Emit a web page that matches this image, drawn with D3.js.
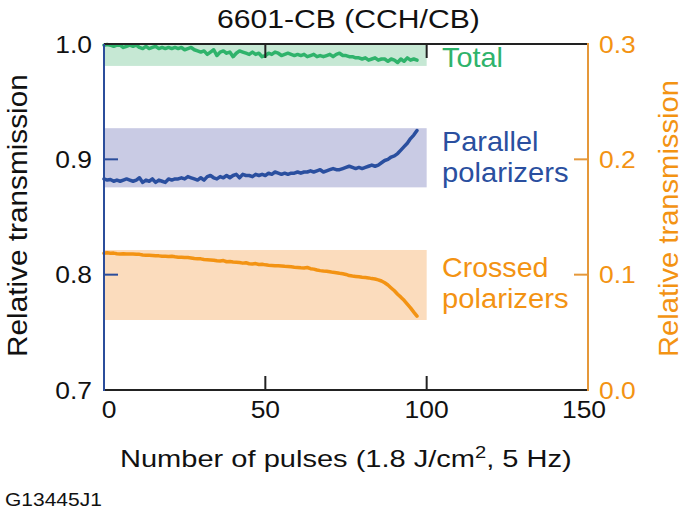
<!DOCTYPE html>
<html><head><meta charset="utf-8">
<script src="https://cdn.jsdelivr.net/npm/d3@7"></script>
<style>
html,body{margin:0;padding:0;background:#fff;}
svg{display:block;font-family:"Liberation Sans",Arial,Helvetica,sans-serif;}
</style></head>
<body>
<svg id="chart" width="685" height="513"></svg>
<script>
// ---------- data ----------
const title = "6601-CB (CCH/CB)";
const xTicks = [0, 50, 100, 150];
const leftTicks = [0.7, 0.8, 0.9, 1.0];
const leftTickLabels = ["0.7", "0.8", "0.9", "1.0"];
const rightTicks = [0.0, 0.1, 0.2, 0.3];
const rightTickLabels = ["0.0", "0.1", "0.2", "0.3"];
const footer = "G13445J1";

const totalValues = [0.999,0.9995,0.999,0.998,0.999,0.999,0.997,0.998,0.999,0.998,
0.999,0.997,0.996,0.998,0.996,0.997,0.998,0.996,0.997,0.996,
0.997,0.996,0.997,0.996,0.997,0.995,0.996,0.997,0.995,0.994,
0.993,0.994,0.991,0.993,0.995,0.990,0.993,0.994,0.992,0.993,
0.989,0.992,0.994,0.993,0.992,0.991,0.993,0.991,0.992,0.989,
0.990,0.992,0.991,0.993,0.992,0.990,0.991,0.992,0.991,0.990,
0.991,0.990,0.991,0.989,0.990,0.991,0.989,0.990,0.989,0.990,
0.991,0.989,0.991,0.992,0.990,0.990,0.989,0.989,0.988,0.988,
0.987,0.988,0.986,0.987,0.988,0.986,0.987,0.987,0.985,0.987,
0.986,0.984,0.987,0.985,0.988,0.986,0.987,0.986];

const parallelValues = [0.883,0.882,0.8825,0.881,0.882,0.881,0.882,0.883,0.882,0.881,
0.882,0.884,0.880,0.882,0.881,0.883,0.880,0.882,0.881,0.880,
0.883,0.882,0.883,0.883,0.884,0.883,0.885,0.884,0.883,0.882,
0.884,0.882,0.885,0.886,0.884,0.883,0.885,0.884,0.886,0.884,
0.886,0.887,0.884,0.887,0.886,0.886,0.885,0.887,0.886,0.887,
0.886,0.888,0.887,0.889,0.888,0.887,0.888,0.887,0.888,0.888,
0.889,0.888,0.889,0.889,0.890,0.889,0.890,0.891,0.889,0.890,
0.891,0.892,0.891,0.891,0.892,0.893,0.894,0.893,0.892,0.893,
0.892,0.893,0.894,0.895,0.894,0.895,0.897,0.899,0.900,0.902,
0.903,0.905,0.908,0.911,0.914,0.918,0.921,0.925];

const crossedValues = [0.8185,0.8190,0.8185,0.8187,0.8182,0.8180,0.8181,0.8180,0.8180,0.8179,
0.8178,0.8176,0.8170,0.8168,0.8168,0.8167,0.8165,0.8163,0.8160,0.8160,
0.8158,0.8160,0.8155,0.8152,0.8150,0.8148,0.8148,0.8145,0.8140,0.8138,
0.8137,0.8132,0.8130,0.8128,0.8125,0.8120,0.8118,0.8122,0.8112,0.8115,
0.8110,0.8108,0.8105,0.8100,0.8103,0.8095,0.8093,0.8096,0.8088,0.8090,
0.8085,0.8082,0.8080,0.8078,0.8077,0.8075,0.8072,0.8070,0.8068,0.8065,
0.8063,0.8060,0.8058,0.8062,0.8052,0.8048,0.8040,0.8035,0.8032,0.8030,
0.8025,0.8020,0.8017,0.8012,0.8008,0.8002,0.7992,0.7988,0.7985,0.7982,
0.7978,0.7975,0.7972,0.7966,0.7962,0.7955,0.7945,0.7930,0.7910,0.7885,
0.7860,0.7830,0.7805,0.7778,0.7745,0.7712,0.7675,0.7640];

const pulses = d3.range(totalValues.length);

// shaded bands: [x0, x1, yLow, yHigh]
const totalBand = [0, 100, 0.981, 1.0];
const parallelBand = [0, 100, 0.8757, 0.927];
const crossedBand = [0, 100, 0.7607, 0.8214];

// ---------- layout ----------
const L = 104, R = 588, T = 44, B = 390;
const svg = d3.select("#chart");
const x = d3.scaleLinear().domain([0, 150]).range([L, R]);
const yL = d3.scaleLinear().domain([0.7, 1.0]).range([B, T]);
const yR = d3.scaleLinear().domain([0.0, 0.3]).range([B, T]);

const C = {
  green: "#2fb36b", greenBand: "#c6e8d4",
  blue: "#2a4f9f", blueBand: "#c9cbe4",
  orange: "#f39313", orangeBand: "#fbdcbd",
  axisBlue: "#2b4d9b", axisOrange: "#e5983a"
};

function addText(str, x0, y0, size, color, targetW, anchor, rotate) {
  const g = svg.append("g");
  const t = g.append("text").attr("x", 0).attr("y", 0)
    .attr("font-size", size).attr("fill", color).text(str);
  const w = t.node().getBBox().width;
  const s = targetW ? targetW / w : 1;
  let dx = 0;
  if (anchor === "middle") dx = -w * s / 2;
  else if (anchor === "end") dx = -w * s;
  if (rotate) {
    g.attr("transform", `translate(${x0},${y0}) rotate(-90) translate(${dx},0) scale(${s},1)`);
  } else {
    g.attr("transform", `translate(${x0 + dx},${y0}) scale(${s},1)`);
  }
  return g;
}

// ---------- bands ----------
[[totalBand, C.greenBand], [parallelBand, C.blueBand], [crossedBand, C.orangeBand]].forEach(([b, col]) => {
  svg.append("rect")
    .attr("x", x(b[0])).attr("width", x(b[1]) - x(b[0]))
    .attr("y", yL(b[3])).attr("height", yL(b[2]) - yL(b[3]))
    .attr("fill", col);
});

// ---------- lines ----------
const line = vals => d3.line().x((d, i) => x(pulses[i])).y(d => yL(d))(vals);
[[totalValues, C.green], [parallelValues, C.blue], [crossedValues, C.orange]].forEach(([v, col]) => {
  svg.append("path").attr("d", line(v)).attr("fill", "none")
    .attr("stroke", col).attr("stroke-width", 3.5)
    .attr("stroke-linejoin", "round").attr("stroke-linecap", "round");
});

// ---------- frame / axes ----------
const tickLen = 14;
svg.append("line").attr("x1", L).attr("x2", R).attr("y1", T).attr("y2", T).attr("stroke", "#222").attr("stroke-width", 2);
svg.append("line").attr("x1", L).attr("x2", R).attr("y1", B).attr("y2", B).attr("stroke", "#222").attr("stroke-width", 2);
xTicks.filter(d => d > 0 && d < 150).forEach(d => {
  svg.append("line").attr("x1", x(d)).attr("x2", x(d)).attr("y1", T).attr("y2", T + tickLen).attr("stroke", "#222").attr("stroke-width", 2);
  svg.append("line").attr("x1", x(d)).attr("x2", x(d)).attr("y1", B).attr("y2", B - tickLen).attr("stroke", "#222").attr("stroke-width", 2);
});
svg.append("line").attr("x1", L).attr("x2", L).attr("y1", T).attr("y2", B + 1).attr("stroke", C.axisBlue).attr("stroke-width", 2);
leftTicks.filter(d => d > 0.7 && d < 1.0).forEach(d => {
  svg.append("line").attr("x1", L).attr("x2", L + tickLen).attr("y1", yL(d)).attr("y2", yL(d)).attr("stroke", C.axisBlue).attr("stroke-width", 2);
});
svg.append("line").attr("x1", R).attr("x2", R).attr("y1", T - 1).attr("y2", B + 1).attr("stroke", C.axisOrange).attr("stroke-width", 2);
rightTicks.filter(d => d > 0 && d < 0.3).forEach(d => {
  svg.append("line").attr("x1", R).attr("x2", R - tickLen).attr("y1", yR(d)).attr("y2", yR(d)).attr("stroke", C.axisOrange).attr("stroke-width", 2);
});

// ---------- tick labels ----------
const tickSize = 23, tickStretch = 1.15;
leftTicks.forEach((d, i) => {
  const g = svg.append("g");
  g.append("text").attr("font-size", tickSize).attr("fill", "#111").attr("text-anchor", "end").text(leftTickLabels[i]);
  g.attr("transform", `translate(${L - 12},${yL(d) + 8.5}) scale(${tickStretch},1)`);
});
rightTicks.forEach((d, i) => {
  const g = svg.append("g");
  g.append("text").attr("font-size", tickSize).attr("fill", C.orange).attr("text-anchor", "start").text(rightTickLabels[i]);
  g.attr("transform", `translate(${R + 11},${yR(d) + 8.5}) scale(${tickStretch},1)`);
});
xTicks.forEach((d, i) => {
  const g = svg.append("g");
  g.append("text").attr("font-size", tickSize).attr("fill", "#111").attr("text-anchor", "middle").text(d);
  const dx = i === 0 ? 5 : (i === xTicks.length - 1 ? -4 : 0);
  g.attr("transform", `translate(${x(d) + dx},${B + 28}) scale(${tickStretch},1)`);
});

// ---------- titles ----------
addText(title, 217, 28, 26, "#111", 263, "start");
{
  const g = svg.append("g");
  const t = g.append("text").attr("font-size", 24.5).attr("fill", "#111");
  t.append("tspan").text("Number of pulses (1.8 J/cm");
  t.append("tspan").attr("font-size", 17).attr("dy", -9).text("2");
  t.append("tspan").attr("dy", 9).text(", 5 Hz)");
  const w = t.node().getBBox().width;
  g.attr("transform", `translate(120,467) scale(${452 / w},1)`);
}
addText("Relative transmission", 27, 357, 28.5, "#111", 283, "start", true);
addText("Relative transmission", 678, 357, 28.5, C.orange, 277, "start", true);

// ---------- series labels ----------
addText("Total", 442, 66.7, 27, C.green, 61, "start");
addText("Parallel", 442, 151, 27, C.blue, 96.5, "start");
addText("polarizers", 442, 182, 27, C.blue, 126.5, "start");
addText("Crossed", 442, 276.7, 27, C.orange, 106.5, "start");
addText("polarizers", 442, 308.3, 27, C.orange, 126.5, "start");

// ---------- footer ----------
addText(footer, 5, 506, 19, "#111", 97, "start");
</script>
</body></html>
